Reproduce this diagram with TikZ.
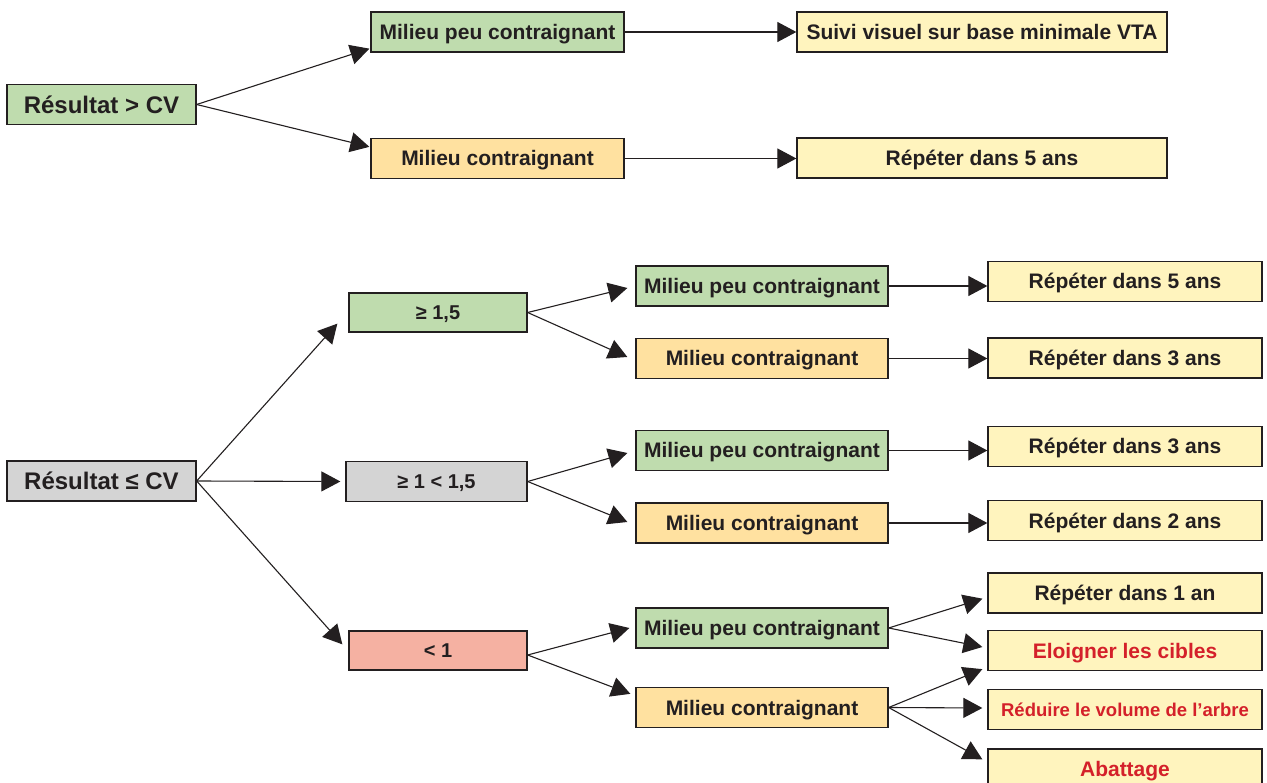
\documentclass[tikz,border=0pt]{standalone}
\usepackage{fontspec}
\setmainfont{Liberation Sans}
\usetikzlibrary{arrows.meta,calc}

\definecolor{ink}{HTML}{231F20}
\definecolor{greenbox}{HTML}{BFDCAE}
\definecolor{orangebox}{HTML}{FFE1A0}
\definecolor{yellowbox}{HTML}{FFF4BE}
\definecolor{graybox}{HTML}{D4D4D4}
\definecolor{pinkbox}{HTML}{F5B1A2}
\definecolor{redtext}{HTML}{D4202A}

\begin{document}
\begin{tikzpicture}[x=1pt,y=-1pt,
  box/.style={draw=ink, line width=1.3pt, inner sep=0pt, text=ink,
    minimum height=40, text height=15pt, text depth=0pt,
    font=\bfseries\fontsize{21}{25}\selectfont},
  big/.style={font=\bfseries\fontsize{24}{28}\selectfont, text height=17.2pt},
  mid/.style={font=\bfseries\fontsize{20}{24}\selectfont, text height=14.3pt},
  small/.style={font=\bfseries\fontsize{18.5}{22}\selectfont, text height=13.3pt},
  rootbox/.style={box, big, minimum width=189},
  levelbox/.style={box, mid, minimum width=178},
  envbox/.style={box, minimum width=252},
  actbox/.style={box, fill=yellowbox, minimum width=274},
  topact/.style={box, fill=yellowbox, minimum width=370},
  alert/.style={text=redtext},
  arr/.style={draw=ink, line width=1.1pt, -{Triangle[length=19pt,width=20pt]}},
]
\fill[white] (0,0) rectangle (1267,783);
\useasboundingbox (0,0) rectangle (1267,783);

% ---- Résultat > CV ----
\node[rootbox, fill=greenbox] (R1) at (101.5,104.5) {Résultat > CV};
\node[envbox, minimum width=253, fill=greenbox] (MPC1) at (497.5,32) {Milieu peu contraignant};
\node[envbox, minimum width=253, fill=orangebox] (MC1) at (497.5,158.5) {Milieu contraignant};
\node[topact] (SV) at (982,32) {Suivi visuel sur base minimale VTA};
\node[topact] (RA) at (982,158) {Répéter dans 5 ans};

\draw[arr] (R1.east) -- ($(MPC1.south west)+(-1,-4)$);
\draw[arr] (R1.east) -- ($(MC1.north west)+(-1,9)$);
\draw[arr] (MPC1.east) -- (MPC1.east -| SV.west);
\draw[arr] (MC1.east) -- (MC1.east -| RA.west);

% ---- Résultat <= CV ----
\node[rootbox, fill=graybox] (R2) at (101.5,481) {Résultat ≤ CV};
\node[levelbox, fill=greenbox, minimum height=39] (G15) at (438,312.5) {≥ 1,5};
\node[levelbox, fill=graybox, minimum width=181] (G1) at (436.5,481.5) {≥ 1 < 1,5};
\node[levelbox, fill=pinkbox, minimum height=39] (L1) at (438,650.5) {< 1};

\draw[arr] (R2.east) -- ($(G15.south west)+(-11,-9)$);
\draw[arr] (R2.east) -- ($(G1.west)+(-5,0)$);
\draw[arr] (R2.east) -- ($(L1.north west)+(-6,14)$);

% environment column
\node[envbox, fill=greenbox]  (MPC2) at (762,286)   {Milieu peu contraignant};
\node[envbox, fill=orangebox] (MC2)  at (762,358.5) {Milieu contraignant};
\node[envbox, fill=greenbox]  (MPC3) at (762,450.5) {Milieu peu contraignant};
\node[envbox, fill=orangebox] (MC3)  at (762,523)   {Milieu contraignant};
\node[envbox, fill=greenbox]  (MPC4) at (762,628)   {Milieu peu contraignant};
\node[envbox, fill=orangebox] (MC4)  at (762,707.5) {Milieu contraignant};

\draw[arr] (G15.east) -- ($(MPC2.west)+(-8,2)$);
\draw[arr] (G15.east) -- ($(MC2.west)+(-8,-1.5)$);
\draw[arr] (G1.east) -- ($(MPC3.west)+(-8,2.5)$);
\draw[arr] (G1.east) -- ($(MC3.west)+(-8,-1)$);
\draw[arr] ($(L1.east)+(0,4.5)$) -- ($(MPC4.west)+(-6,0)$);
\draw[arr] ($(L1.east)+(0,4.5)$) -- ($(MC4.north west)+(-5,7)$);

% action column
\node[actbox] (R5b)  at (1125,281.5) {Répéter dans 5 ans};
\node[actbox] (R3a)  at (1125,358)   {Répéter dans 3 ans};
\node[actbox] (R3b)  at (1125,446.5) {Répéter dans 3 ans};
\node[actbox] (R2a)  at (1125,520.5) {Répéter dans 2 ans};
\node[actbox] (R1an) at (1125,593)   {Répéter dans 1 an};
\node[actbox, alert] (El) at (1125,650.5) {Eloigner les cibles};
\node[actbox, alert, small] (Rd) at (1125,709.5) {Réduire le volume de l’arbre};
\node[actbox, alert] (Ab) at (1125,769) {Abattage};

\draw[arr] (MPC2.east) -- (MPC2.east -| R5b.west);
\draw[arr] (MC2.east) -- (MC2.east -| R3a.west);
\draw[arr] (MPC3.east) -- (MPC3.east -| R3b.west);
\draw[arr] (MC3.east) -- (MC3.east -| R2a.west);

\draw[arr] (MPC4.east) -- ($(R1an.south west)+(-5,-15)$);
\draw[arr] (MPC4.east) -- ($(El.west)+(-5,-3.5)$);
\draw[arr] (MC4.east) -- ($(El.south west)+(-5,-2)$);
\draw[arr] (MC4.east) -- ($(Rd.west)+(-5,-1.5)$);
\draw[arr] (MC4.east) -- ($(Ab.north west)+(-5,11)$);
\end{tikzpicture}
\end{document}
